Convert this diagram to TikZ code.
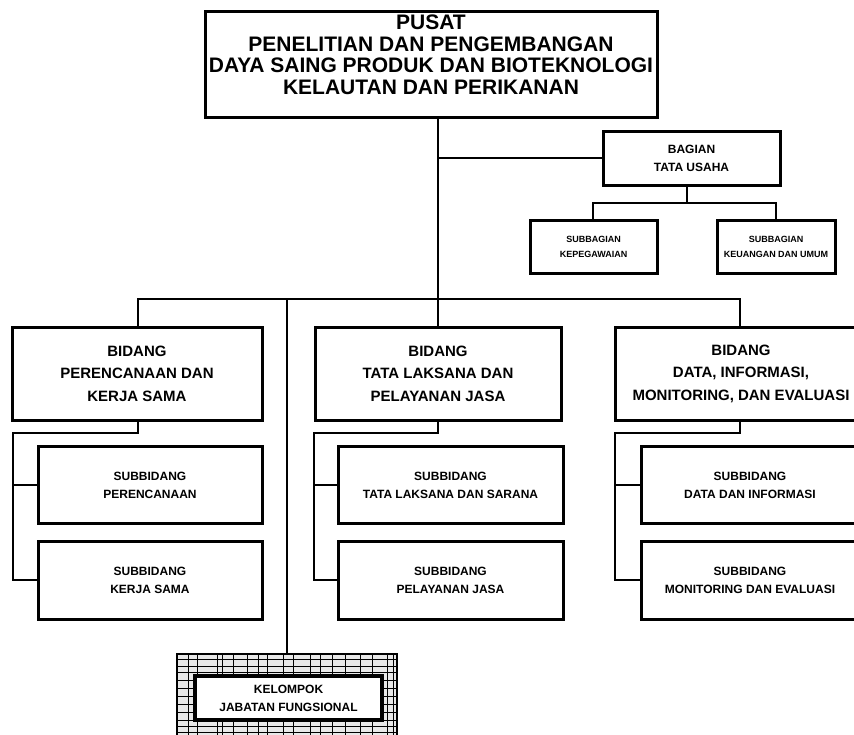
\documentclass[tikz,border=0pt]{standalone}
\usepackage{fontspec}
\setmainfont{Liberation Sans}
\begin{document}
\begin{tikzpicture}[x=1pt,y=-1pt,
  box/.style={draw, line width=3pt, fill=white, inner sep=0pt, align=center},
  titlefont/.style={font=\fontsize{21}{21.5}\selectfont\bfseries},
  bidfont/.style={font=\fontsize{15}{22.5}\selectfont\bfseries},
  smallfont/.style={font=\fontsize{12}{18}\selectfont\bfseries},
  tinyfont/.style={font=\fontsize{9}{15}\selectfont\bfseries},
  conn/.style={draw, line width=2.4pt, line cap=rect},
  thinconn/.style={draw, line width=2pt, line cap=rect},
  gridline/.style={draw, line width=0.9pt}
]
\useasboundingbox (0,0) rectangle (854,734);

% coordinates
\coordinate (barL) at (138,299);
\coordinate (barK) at (287,299);
\coordinate (barM) at (438,299);
\coordinate (barR) at (740,299);
\coordinate (tuj) at (438,158);
\coordinate (tuh) at (687,203);
\coordinate (stuL) at (593,203);
\coordinate (stuR) at (776,203);
\coordinate (e1a) at (138,433);
\coordinate (e1b) at (13,433);
\coordinate (e1c) at (13,580);
\coordinate (e2a) at (438,433);
\coordinate (e2b) at (314,433);
\coordinate (e2c) at (314,580);
\coordinate (e3a) at (740,433);
\coordinate (e3b) at (615,433);
\coordinate (e3c) at (615,580);
\coordinate (kt) at (287,654);

% connectors
\draw[conn] (barL) -- (barR);
\draw[conn] (barM) -- ++(0,-190);
\draw[thinconn] (tuj) -- (653,158);
\draw[conn] (barL) -- (e1a) -- (e1b) -- (e1c) -- (40,580);
\draw[conn] (e1b |- 0,485) -- (40,485);
\draw[conn] (barM) -- (e2a) -- (e2b) -- (e2c) -- (340,580);
\draw[conn] (e2b |- 0,485) -- (340,485);
\draw[conn] (barR) -- (e3a) -- (e3b) -- (e3c) -- (643,580);
\draw[conn] (e3b |- 0,485) -- (643,485);
\draw[conn] (barK) -- (kt);
\draw[thinconn] (tuh) -- (687,185);
\draw[thinconn] (stuL) -- (stuR);
\draw[thinconn] (stuL) -- (593,222);
\draw[thinconn] (stuR) -- (776,222);

% main box
\node[box, titlefont, minimum width=452pt, minimum height=106pt] (main) at (431,64)
  {PUSAT\\PENELITIAN DAN PENGEMBANGAN\\DAYA SAING PRODUK DAN BIOTEKNOLOGI\\KELAUTAN DAN PERIKANAN\\[-3pt]};

% tata usaha
\node[box, smallfont, minimum width=177pt, minimum height=54pt] (tu) at (691.5,158)
  {BAGIAN\\TATA USAHA};
\node[box, tinyfont, minimum width=127pt, minimum height=53pt] (tu1) at (593.5,246.5)
  {SUBBAGIAN\\KEPEGAWAIAN};
\node[box, tinyfont, minimum width=118pt, minimum height=53pt] (tu2) at (776,246.5)
  {SUBBAGIAN\\KEUANGAN DAN UMUM};

% bidang
\node[box, bidfont, minimum width=250pt, minimum height=93pt] (bid1) at (137,373.5)
  {BIDANG\\PERENCANAAN DAN\\KERJA SAMA};
\node[box, bidfont, minimum width=246pt, minimum height=93pt] (bid2) at (438,373.5)
  {BIDANG\\TATA LAKSANA DAN\\PELAYANAN JASA};
\node[box, bidfont, minimum width=252pt, minimum height=93pt] (bid3) at (741,373.5)
  {BIDANG\\DATA, INFORMASI,\\MONITORING, DAN EVALUASI};

% subbidang
\node[box, smallfont, minimum width=224pt, minimum height=77pt] (s11) at (150,485)
  {SUBBIDANG\\PERENCANAAN};
\node[box, smallfont, minimum width=224pt, minimum height=78pt] (s12) at (150,580)
  {SUBBIDANG\\KERJA SAMA};
\node[box, smallfont, minimum width=225pt, minimum height=77pt] (s21) at (450.5,485)
  {SUBBIDANG\\TATA LAKSANA DAN SARANA};
\node[box, smallfont, minimum width=225pt, minimum height=78pt] (s22) at (450.5,580)
  {SUBBIDANG\\PELAYANAN JASA};
\node[box, smallfont, minimum width=218pt, minimum height=77pt] (s31) at (750,485)
  {SUBBIDANG\\DATA DAN INFORMASI};
\node[box, smallfont, minimum width=218pt, minimum height=78pt] (s32) at (750,580)
  {SUBBIDANG\\MONITORING DAN EVALUASI};

% kelompok jabatan fungsional
\begin{scope}
  \clip (177,654) rectangle (397,745);
  \fill[gray!18] (177,654) rectangle (397,745);
  \foreach \x in {188,197,217,222,233,247,258,267,283,293,310,320,332,345,360,372,387,393}
    \draw[gridline] (\x,654) -- (\x,745);
  \foreach \y in {659,666,672,680,688,696,704,712,720,726,732}
    \draw[gridline] (177,\y) -- (397,\y);
\end{scope}
\draw[line width=2.8pt] (177,745) -- (177,654) -- (397,654) -- (397,745);
\node[box, smallfont, line width=3.2pt, minimum width=187pt, minimum height=44pt] (kjf) at (288.5,698)
  {KELOMPOK\\JABATAN FUNGSIONAL};
\end{tikzpicture}
\end{document}
